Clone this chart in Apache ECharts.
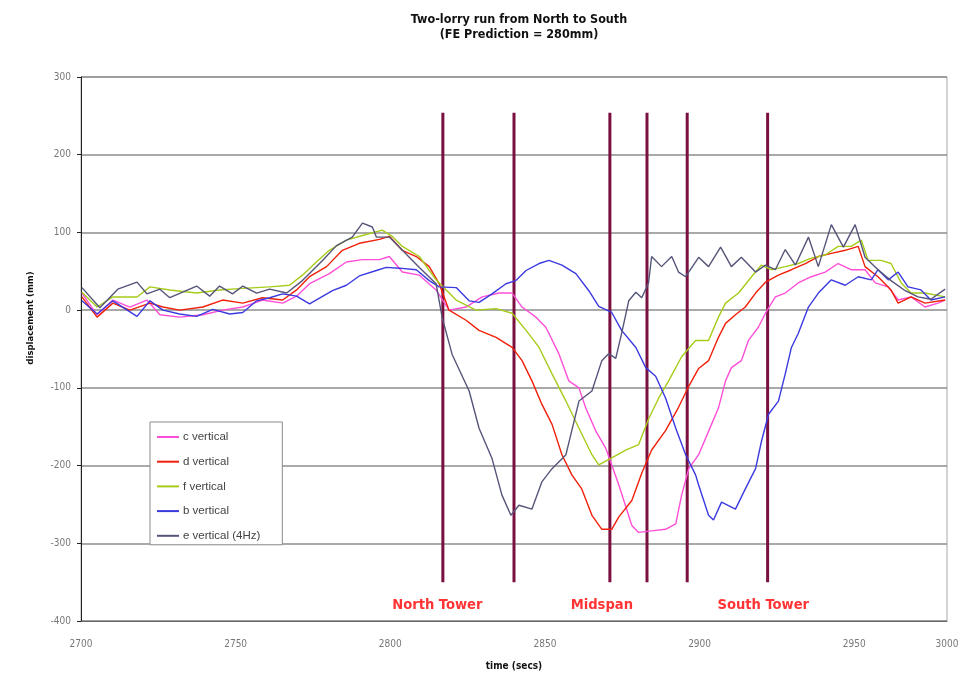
<!DOCTYPE html>
<html>
<head>
<meta charset="utf-8">
<script src="https://cdn.jsdelivr.net/npm/echarts@6/dist/echarts.min.js"></script>
<style>html,body{margin:0;padding:0;background:#fff}#chart{width:964px;height:678px}</style>
</head>
<body>
<div id="chart"></div>
<script>
// ---- data (time in secs, displacement in mm) ----
const seriesNames = ['c vertical', 'd vertical', 'f vertical', 'b vertical', 'e vertical (4Hz)'];
const xTickLabels = ['2700', '2750', '2800', '2850', '2900', '2950', '3000'];

const cVertical = [[2700.3,22],[2705.2,-6],[2710.3,13],[2715.8,4],[2721.3,13],[2725.5,-6],[2731.9,-9],[2739.4,-6],[2745.8,0],[2752.3,4],[2758.7,13],[2765.2,9],[2769.7,18],[2773.9,34],[2780.3,47],[2785.8,62],[2791.0,65],[2796.5,65],[2799.7,69],[2803.9,49],[2809.4,45],[2814.8,26],[2819.0,0],[2824.5,4],[2829.7,17],[2835.2,22],[2839.4,22],[2842.6,4],[2847.1,-9],[2850.3,-22],[2854.5,-56],[2857.7,-91],[2861.0,-100],[2863.2,-126],[2866.5,-156],[2869.7,-178],[2873.9,-225],[2878.1,-277],[2880.3,-286],[2884.5,-284],[2889.0,-282],[2892.3,-275],[2894.2,-238],[2896.5,-204],[2899.7,-186],[2902.9,-156],[2906.1,-126],[2908.4,-91],[2910.3,-74],[2913.5,-65],[2915.8,-39],[2919.0,-22],[2921.3,-4],[2924.5,17],[2927.7,22],[2931.9,35],[2936.1,43],[2940.6,49],[2944.8,60],[2949.0,52],[2953.5,52],[2956.8,35],[2961.0,30],[2964.2,13],[2968.4,17],[2972.9,4],[2977.1,9],[2979.4,13]];

const dVertical = [[2700.3,17],[2705.2,-9],[2710.3,9],[2715.8,0],[2722.3,9],[2726.5,4],[2731.9,0],[2739.4,4],[2745.8,13],[2752.3,9],[2758.7,16],[2765.2,13],[2769.7,26],[2773.9,43],[2779.4,56],[2784.5,77],[2790.0,86],[2796.5,91],[2799.7,95],[2803.9,77],[2808.4,69],[2812.6,56],[2815.8,34],[2819.0,0],[2824.5,-13],[2828.7,-26],[2834.2,-35],[2839.4,-48],[2842.6,-65],[2845.8,-91],[2849.0,-121],[2852.3,-147],[2855.5,-186],[2858.7,-212],[2861.9,-230],[2865.2,-264],[2868.4,-282],[2871.6,-282],[2873.9,-266],[2878.1,-245],[2881.3,-210],[2884.5,-180],[2889.0,-155],[2893.2,-125],[2896.5,-98],[2899.7,-75],[2902.9,-65],[2906.1,-35],[2908.4,-17],[2911.6,-6],[2914.8,4],[2918.1,22],[2921.3,36],[2925.5,45],[2929.7,52],[2934.2,60],[2938.4,69],[2942.6,73],[2947.1,77],[2951.3,82],[2953.5,56],[2957.7,43],[2961.9,26],[2964.2,9],[2968.4,17],[2972.9,9],[2979.4,13]];

const fVertical = [[2700.3,23],[2705.2,4],[2710.3,17],[2718.1,17],[2722.3,30],[2728.7,26],[2737.4,22],[2744.8,26],[2752.3,28],[2761.0,30],[2767.4,32],[2771.6,45],[2776.1,62],[2780.3,77],[2785.8,90],[2791.0,96],[2797.4,103],[2800.6,95],[2803.9,82],[2809.4,69],[2814.8,39],[2821.3,13],[2827.7,0],[2834.2,2],[2839.4,-4],[2843.9,-26],[2848.1,-48],[2852.3,-82],[2856.8,-117],[2861.0,-152],[2865.2,-186],[2867.4,-199],[2871.6,-190],[2876.1,-180],[2880.3,-173],[2883.5,-140],[2886.8,-113],[2890.0,-91],[2894.2,-60],[2898.7,-39],[2902.9,-39],[2906.1,-9],[2908.4,9],[2912.6,22],[2916.8,43],[2920.0,58],[2923.2,52],[2927.7,56],[2931.9,60],[2936.1,67],[2940.6,71],[2944.8,82],[2949.0,82],[2952.3,90],[2954.5,64],[2958.7,64],[2961.9,60],[2965.2,35],[2968.4,22],[2972.9,22],[2979.4,17]];

const bVertical = [[2700.3,12],[2705.2,-5],[2710.3,12],[2718.1,-8],[2722.3,12],[2726.5,0],[2731.9,-5],[2737.4,-8],[2742.6,1],[2748.1,-5],[2752.3,-3],[2756.8,12],[2761.0,16],[2765.2,21],[2769.7,18],[2773.9,8],[2781.3,25],[2785.8,32],[2790.0,44],[2795.5,51],[2798.7,55],[2802.9,54],[2808.4,52],[2812.6,38],[2815.8,30],[2821.3,29],[2825.5,12],[2828.7,10],[2832.9,21],[2837.4,34],[2840.6,38],[2843.9,51],[2848.1,60],[2851.3,64],[2855.5,58],[2860.0,47],[2864.2,25],[2867.4,5],[2871.6,-3],[2874.8,-26],[2879.4,-48],[2882.6,-74],[2885.8,-85],[2889.0,-113],[2892.3,-152],[2895.5,-186],[2898.7,-212],[2899.7,-225],[2902.9,-264],[2904.5,-270],[2907.1,-247],[2911.6,-256],[2914.8,-230],[2918.1,-204],[2920.0,-169],[2922.3,-134],[2925.5,-117],[2927.7,-82],[2929.7,-48],[2931.9,-30],[2935.2,4],[2938.4,22],[2942.6,39],[2947.1,32],[2951.3,43],[2955.5,39],[2957.7,52],[2961.0,39],[2964.2,49],[2967.4,30],[2971.6,26],[2974.8,13],[2979.4,17]];

const eVertical4Hz = [[2700.3,29],[2706.1,3],[2711.9,27],[2718.1,36],[2721.3,21],[2725.5,27],[2728.7,16],[2737.4,31],[2741.6,18],[2744.8,31],[2749.0,21],[2752.3,31],[2756.8,22],[2761.0,27],[2766.5,22],[2771.6,38],[2778.1,64],[2782.6,83],[2787.7,94],[2791.0,112],[2794.2,107],[2795.5,94],[2799.7,94],[2803.9,77],[2809.4,55],[2814.8,34],[2816.8,-10],[2820.0,-57],[2825.5,-104],[2828.7,-152],[2832.9,-191],[2836.1,-238],[2839.0,-264],[2841.6,-251],[2845.8,-256],[2849.0,-221],[2852.3,-204],[2856.8,-186],[2861.0,-117],[2865.2,-104],[2868.4,-65],[2870.6,-56],[2872.9,-62],[2874.8,-30],[2877.1,12],[2879.4,23],[2881.3,16],[2883.5,35],[2884.5,69],[2887.7,56],[2891.0,69],[2893.2,49],[2895.5,43],[2899.7,68],[2902.9,56],[2906.8,81],[2910.3,56],[2913.5,68],[2918.1,49],[2921.3,58],[2924.5,52],[2927.7,78],[2931.0,58],[2935.2,94],[2938.4,56],[2942.6,110],[2946.5,81],[2950.3,110],[2953.5,68],[2957.7,52],[2961.9,38],[2966.5,25],[2970.6,17],[2974.8,14],[2979.4,27]];

const seriesData = [cVertical, dVertical, fVertical, bVertical, eVertical4Hz];
const seriesColors = ['#ff4fd8', '#f0200a', '#a6cc1a', '#3a3ae0', '#55557a'];

// vertical marker positions (secs) and their extent (mm)
const markerTimes = [2817, 2840, 2871, 2883, 2896, 2922];
const markerBottom = -350;
const markerTop = 254;

const towerLabels = ['North Tower', 'Midspan', 'South Tower'];
const towerLabelTimes = [2815.2, 2868.4, 2920.6];
const towerLabelLevel = -380;

// ---- chart ----
const xMin = 2700, xMax = 2980, xStep = 50;
const chart = echarts.init(document.getElementById('chart'));
const narrowFont = "'Liberation Sans Narrow','DejaVu Sans Condensed','Liberation Sans',sans-serif";
const plainFont = "'Liberation Sans',Arial,sans-serif";

const series = [];
markerTimes.forEach(function (t) {
  series.push({
    type: 'line', silent: true, symbol: 'none', z: 1,
    lineStyle: { color: '#7a1040', width: 3 },
    data: [[t, markerBottom], [t, markerTop]]
  });
});
seriesNames.forEach(function (n, i) {
  series.push({
    name: n, type: 'line', symbol: 'none', z: 3,
    lineStyle: { color: seriesColors[i], width: 1.4 },
    itemStyle: { color: seriesColors[i] },
    data: seriesData[i]
  });
});
series.push({
  type: 'scatter', symbolSize: 0, silent: true, z: 4,
  label: { show: true, position: 'inside', formatter: '{b}', color: '#ff0000',
           fontWeight: 'bold', fontSize: 14.6, fontFamily: narrowFont },
  data: towerLabels.map(function (n, i) { return { name: n, value: [towerLabelTimes[i], towerLabelLevel] }; })
});

chart.setOption({
  animation: false,
  backgroundColor: '#ffffff',
  title: {
    text: 'Two-lorry run from North to South\n(FE Prediction = 280mm)',
    left: 514, top: 7, textAlign: 'center',
    textStyle: { fontSize: 12.5, fontWeight: 'bold', color: '#111', lineHeight: 15, fontFamily: narrowFont }
  },
  graphic: [{
    type: 'text', x: 31, y: 318, rotation: Math.PI / 2,
    style: { text: 'displacement (mm)', align: 'center', verticalAlign: 'middle',
             font: "bold 9.5px 'Liberation Sans Narrow','DejaVu Sans Condensed',sans-serif", fill: '#111' }
  }],
  grid: { left: 81, right: 17, top: 77, bottom: 57, show: true, borderColor: '#a8a8a8', borderWidth: 1 },
  legend: {
    data: seriesNames, orient: 'vertical', left: 150, top: 422,
    backgroundColor: '#fff', borderColor: '#8a8a8a', borderWidth: 1,
    padding: [8, 22, 2, 7], itemGap: 10.7, itemWidth: 22, itemHeight: 2,
    icon: 'rect',
    textStyle: { fontSize: 11.5, color: '#444', fontFamily: plainFont, lineHeight: 14, padding: [0, 0, 0, -1] }
  },
  xAxis: {
    type: 'value', min: xMin, max: xMax, interval: xStep,
    name: 'time (secs)', nameLocation: 'middle', nameGap: 40,
    nameTextStyle: { fontSize: 10, fontWeight: 'bold', color: '#111', fontFamily: narrowFont },
    axisLine: { onZero: false, lineStyle: { color: '#666', width: 1 } },
    axisTick: { show: false },
    splitLine: { show: false },
    axisLabel: {
      color: '#777', fontSize: 10, fontFamily: narrowFont, margin: 18, showMaxLabel: true,
      formatter: function (v) {
        const i = Math.min(xTickLabels.length - 1, Math.round((v - xMin) / xStep));
        return xTickLabels[i];
      }
    }
  },
  yAxis: {
    type: 'value', min: -400, max: 300, interval: 100,
    axisLine: { show: true, lineStyle: { color: '#222', width: 1 } },
    axisTick: { show: true, length: 4, lineStyle: { color: '#222' } },
    axisLabel: { color: '#777', fontSize: 10, fontFamily: narrowFont, margin: 10 },
    splitLine: { lineStyle: { color: '#8c8c8c', width: 1.6 } }
  },
  series: series
});
</script>
</body>
</html>
